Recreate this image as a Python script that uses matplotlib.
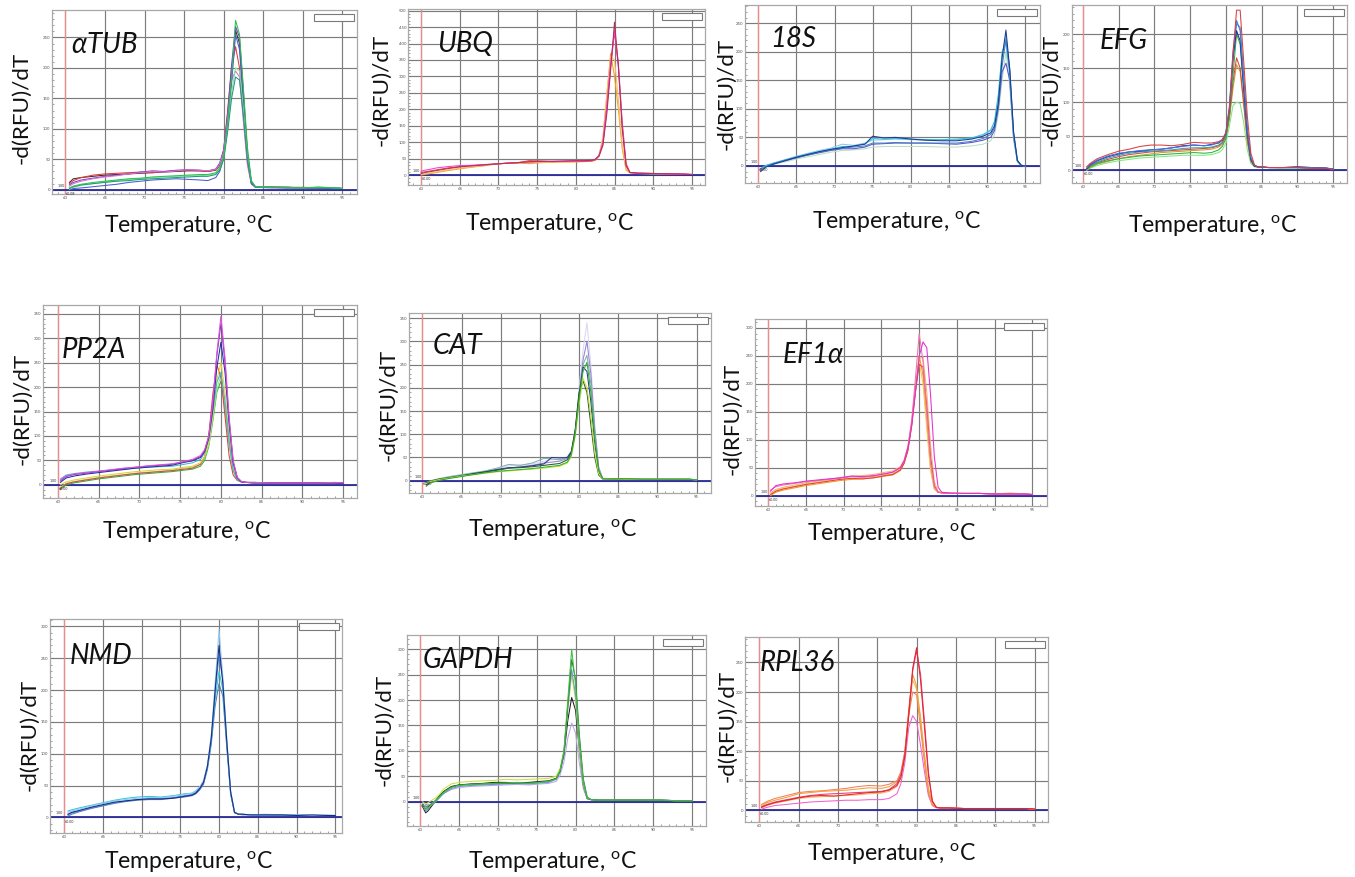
import matplotlib
matplotlib.use("Agg")
import matplotlib.pyplot as plt
from matplotlib.patches import Rectangle
from matplotlib.ticker import MultipleLocator

W, H = 1355, 877

plt.rcParams["font.family"] = ["Lato", "DejaVu Sans"]
plt.rcParams["mathtext.fontset"] = "custom"
plt.rcParams["mathtext.rm"] = "Lato"
plt.rcParams["mathtext.it"] = "Lato:italic"

# ---------------- melt-curve data: -d(RFU)/dT per well ----------------
atub_temp = [60.5, 61, 62, 63.5, 65, 66.5, 68, 69.5, 71, 72.5, 74, 75.5, 77, 78, 79, 79.5,
             80, 80.5, 81, 81.5, 82, 82.5, 83, 83.5, 84, 86, 88, 90, 92, 94, 95]
atub_curves = [
    [12, 18, 20, 22, 24, 25, 26, 27, 28, 29, 30, 31, 31, 30, 32, 40, 62, 115, 190, 262, 240, 150, 60, 12, 5, 4, 4, 3, 3, 3, 2],
    [10, 15, 20, 24, 26, 27, 28, 29, 28, 30, 31, 32, 31, 30, 33, 42, 65, 130, 200, 235, 200, 120, 45, 10, 5, 5, 4, 4, 3, 3, 2],
    [8, 12, 16, 19, 22, 24, 26, 29, 31, 30, 32, 33, 32, 31, 34, 44, 66, 125, 205, 268, 250, 160, 60, 12, 5, 4, 4, 3, 3, 3, 2],
    [6, 10, 14, 18, 21, 23, 26, 28, 30, 29, 31, 33, 32, 31, 33, 42, 62, 115, 180, 195, 185, 110, 40, 9, 4, 4, 3, 3, 3, 3, 2],
    [0, 2, 3, 5, 7, 9, 12, 14, 16, 17, 18, 17, 16, 15, 20, 30, 52, 105, 175, 255, 230, 140, 50, 10, 4, 3, 3, 3, 3, 2, 2],
    [1, 4, 7, 10, 13, 15, 17, 18, 20, 21, 22, 23, 23, 24, 26, 34, 52, 100, 160, 200, 195, 130, 55, 14, 5, 4, 4, 3, 5, 3, 2],
    [2, 5, 8, 10, 12, 14, 15, 17, 18, 19, 20, 21, 22, 22, 25, 32, 50, 95, 150, 185, 180, 120, 50, 12, 5, 4, 3, 3, 3, 3, 2],
    [3, 6, 9, 12, 14, 16, 18, 19, 21, 22, 23, 24, 25, 25, 28, 36, 55, 110, 185, 278, 255, 165, 70, 15, 5, 4, 4, 3, 4, 3, 2],
]
atub_colors = ["#3a2a2a", "#e03a3a", "#7a3cc8", "#e070d0", "#4a5ad0", "#80e0a0", "#1f9a7a", "#2fbf4f"]

ubq_temp = [60, 60.5, 61, 62, 63.5, 65, 66.5, 68, 69.5, 71, 72.5, 74, 75.5, 77, 78.5, 80, 81,
            82, 82.5, 83, 83.5, 84, 84.5, 85, 85.5, 86, 86.5, 87, 88, 90, 92, 94, 95]
ubq_curves = [
    [0, 2, 4, 8, 14, 19, 24, 28, 33, 37, 36, 35, 38, 39, 40, 40, 41, 42, 45, 60, 110, 240, 370, 300, 200, 80, 15, 7, 5, 4, 3, 3, 2],
    [2, 4, 6, 10, 16, 21, 25, 29, 33, 36, 37, 38, 39, 40, 40, 41, 42, 42, 46, 62, 115, 245, 360, 350, 230, 90, 18, 7, 5, 4, 4, 3, 2],
    [8, 10, 12, 16, 22, 26, 29, 31, 33, 36, 38, 44, 43, 41, 42, 43, 42, 43, 46, 58, 95, 200, 330, 435, 340, 160, 35, 8, 6, 5, 4, 3, 2],
    [12, 15, 17, 22, 26, 29, 30, 32, 34, 36, 38, 40, 41, 42, 42, 43, 43, 44, 48, 60, 100, 210, 340, 440, 330, 150, 30, 8, 6, 5, 4, 3, 2],
    [5, 8, 10, 14, 20, 25, 28, 31, 34, 36, 38, 41, 42, 42, 43, 44, 44, 45, 48, 58, 90, 185, 320, 465, 330, 140, 28, 8, 6, 5, 4, 3, 2],
]
ubq_colors = ["#f0a020", "#f8c060", "#e83a3a", "#f040d0", "#b03060"]

s18_temp = [60.3, 61, 62, 63.5, 65, 66.5, 68, 69.5, 71, 72.5, 74, 75, 76.5, 78, 80, 82, 84,
            86, 88, 89.5, 90.5, 91, 91.5, 92, 92.5, 93, 93.5, 94, 94.5, 95]
s18_curves = [
    [-4, 0, 3, 7, 12, 16, 20, 24, 27, 28, 30, 33, 34, 34, 34, 34, 33, 33, 35, 38, 44, 55, 90, 150, 200, 140, 45, 7, 1, 0],
    [-5, 0, 4, 9, 14, 19, 23, 27, 30, 30, 33, 38, 39, 40, 40, 40, 39, 38, 41, 45, 50, 62, 100, 165, 180, 150, 50, 8, 1, 0],
    [-8, 0, 5, 11, 17, 22, 27, 31, 38, 36, 40, 45, 46, 47, 46, 45, 45, 46, 48, 53, 62, 75, 120, 195, 230, 165, 55, 8, 1, 0],
    [-6, 1, 5, 10, 16, 21, 25, 29, 34, 34, 39, 48, 47, 48, 47, 46, 46, 47, 49, 55, 63, 78, 125, 200, 215, 160, 55, 9, 1, 0],
    [-7, -1, 4, 10, 15, 19, 24, 28, 31, 33, 35, 40, 40, 41, 40, 40, 40, 40, 43, 48, 55, 66, 105, 175, 222, 168, 58, 9, 1, 0],
    [-10, -2, 3, 9, 15, 20, 25, 29, 32, 35, 38, 52, 49, 50, 47, 45, 44, 44, 47, 52, 58, 70, 110, 190, 238, 170, 60, 10, 1, 0],
]
s18_colors = ["#b8e0c0", "#5a50d0", "#8cc8f0", "#30c0d8", "#4a80c0", "#1a3c90"]

efg_temp = [60.5, 61, 62, 63.5, 65, 66.5, 68, 69.5, 71, 72.5, 74, 75.5, 77, 78, 79, 79.5,
            80, 80.5, 81, 81.5, 82, 82.5, 83, 83.5, 84, 84.5, 86, 88, 90, 92, 94, 95]
efg_curves = [
    [0, 3, 7, 11, 14, 16, 18, 19, 20, 21, 22, 22, 22, 23, 26, 30, 40, 65, 95, 100, 98, 70, 30, 10, 5, 4, 4, 3, 3, 3, 3, 2],
    [0, 4, 9, 13, 17, 20, 22, 24, 26, 27, 28, 29, 30, 31, 34, 38, 48, 75, 120, 155, 145, 95, 42, 13, 6, 5, 4, 4, 4, 3, 3, 2],
    [2, 6, 11, 16, 20, 23, 25, 27, 28, 29, 30, 31, 32, 33, 36, 40, 50, 80, 130, 165, 150, 100, 45, 14, 6, 5, 4, 4, 4, 3, 3, 2],
    [1, 5, 10, 14, 17, 19, 21, 22, 23, 24, 25, 26, 25, 26, 30, 35, 46, 80, 140, 200, 185, 115, 50, 15, 6, 5, 4, 4, 4, 3, 3, 2],
    [2, 7, 12, 18, 22, 25, 27, 28, 29, 30, 32, 33, 33, 34, 37, 41, 52, 88, 160, 215, 210, 140, 62, 18, 7, 5, 4, 4, 5, 4, 3, 2],
    [2, 8, 14, 20, 24, 27, 28, 30, 31, 33, 36, 37, 36, 38, 40, 44, 54, 90, 165, 205, 190, 120, 55, 16, 6, 5, 4, 4, 5, 4, 3, 2],
    [3, 9, 15, 21, 25, 27, 29, 30, 31, 33, 35, 37, 36, 37, 41, 45, 55, 95, 175, 220, 205, 130, 60, 18, 7, 5, 4, 4, 4, 4, 3, 2],
    [5, 10, 17, 23, 28, 31, 35, 37, 37, 36, 38, 41, 40, 40, 42, 45, 55, 90, 170, 235, 235, 160, 80, 25, 8, 5, 4, 4, 4, 3, 3, 2],
]
efg_colors = ["#80e880", "#c8a030", "#e04040", "#30b040", "#3aa0a0", "#2030a0", "#4a70e0", "#d84040"]

pp2a_temp = [60.3, 61, 62, 63.5, 65, 66.5, 68, 69.5, 71, 72.5, 74, 75.5, 76.5, 77.5, 78, 78.5,
             79, 79.5, 80, 80.5, 81, 81.5, 82, 82.5, 83, 84, 86, 88, 90, 92, 94, 95]
pp2a_curves = [
    [-10, 0, 4, 8, 12, 15, 18, 21, 23, 25, 27, 30, 32, 38, 50, 78, 130, 190, 212, 160, 85, 30, 10, 6, 5, 4, 4, 4, 4, 4, 4, 3],
    [-5, 3, 7, 11, 15, 18, 21, 24, 26, 28, 30, 34, 36, 42, 55, 82, 135, 195, 225, 165, 88, 32, 11, 6, 5, 4, 4, 4, 4, 4, 4, 3],
    [-8, 2, 6, 10, 14, 17, 20, 23, 25, 27, 29, 32, 34, 42, 58, 100, 185, 245, 220, 140, 60, 20, 9, 6, 5, 4, 4, 4, 4, 4, 4, 3],
    [0, 6, 10, 14, 18, 21, 24, 27, 29, 31, 32, 36, 38, 45, 58, 85, 140, 215, 250, 190, 100, 35, 12, 6, 5, 4, 4, 4, 4, 4, 4, 3],
    [12, 20, 23, 26, 28, 30, 32, 34, 36, 37, 38, 42, 45, 52, 66, 95, 150, 210, 230, 170, 90, 30, 10, 6, 5, 4, 4, 4, 4, 4, 4, 3],
    [5, 14, 18, 22, 25, 28, 31, 34, 36, 38, 40, 46, 49, 56, 68, 95, 155, 240, 292, 230, 125, 45, 14, 6, 5, 4, 4, 4, 4, 4, 4, 3],
    [8, 17, 21, 24, 27, 30, 33, 36, 38, 40, 42, 47, 50, 58, 70, 98, 165, 265, 330, 250, 135, 48, 15, 7, 5, 5, 4, 4, 4, 4, 4, 4],
    [10, 18, 22, 25, 28, 31, 34, 36, 39, 41, 43, 48, 52, 60, 72, 100, 170, 270, 345, 260, 140, 50, 15, 7, 5, 5, 4, 4, 4, 4, 5, 4],
]
pp2a_colors = ["#30b040", "#90e890", "#e04040", "#e8d030", "#40b8c8", "#2030a0", "#7a30c0", "#e050d8"]

cat_temp = [60.5, 61, 62, 63.5, 65, 66.5, 68, 69.5, 71, 72.5, 74, 75.5, 76.5, 77.5, 78.5, 79,
            79.5, 80, 80.5, 81, 81.5, 82, 82.5, 83, 84, 86, 88, 90, 92, 94, 95]
cat_curves = [
    [-8, -3, 2, 7, 11, 16, 20, 25, 32, 34, 36, 42, 45, 46, 52, 65, 110, 200, 280, 340, 250, 120, 30, 5, 4, 4, 3, 3, 3, 3, 2],
    [-10, -4, 1, 6, 10, 14, 18, 22, 27, 30, 33, 38, 40, 42, 48, 60, 100, 185, 260, 300, 230, 110, 28, 5, 4, 4, 3, 3, 3, 3, 2],
    [-4, 0, 4, 9, 13, 17, 21, 27, 35, 33, 38, 48, 47, 45, 50, 63, 108, 190, 250, 270, 210, 100, 25, 5, 4, 4, 3, 3, 3, 3, 2],
    [-9, -3, 2, 6, 10, 15, 19, 24, 28, 29, 32, 36, 50, 49, 50, 62, 105, 185, 245, 235, 170, 80, 20, 4, 4, 3, 3, 3, 3, 3, 2],
    [-5, -1, 3, 7, 11, 15, 19, 23, 27, 28, 30, 33, 35, 37, 45, 60, 110, 190, 215, 190, 120, 50, 12, 4, 4, 3, 3, 3, 3, 3, 2],
    [-6, -2, 2, 6, 10, 13, 16, 19, 21, 23, 25, 27, 29, 31, 38, 52, 95, 165, 220, 200, 140, 60, 15, 4, 4, 3, 3, 3, 3, 3, 2],
    [-12, -5, 0, 5, 9, 13, 17, 20, 22, 24, 26, 29, 31, 33, 40, 55, 100, 175, 235, 255, 190, 90, 22, 4, 4, 4, 3, 3, 3, 3, 2],
]
cat_colors = ["#d8d8f0", "#9a80d0", "#80b0b0", "#2a3a90", "#2a5a30", "#c8e030", "#30b030"]

ef1a_temp = [60.3, 61, 62, 63.5, 65, 66.5, 68, 69.5, 71, 72.5, 74, 75.5, 76.5, 77.5, 78, 78.5,
             79, 79.5, 80, 80.5, 81, 81.5, 82, 82.5, 83, 84, 86, 88, 90, 92, 94, 95]
ef1a_curves = [
    [0, 6, 10, 14, 18, 21, 24, 27, 29, 30, 32, 35, 37, 45, 58, 82, 128, 195, 250, 215, 130, 50, 12, 6, 5, 4, 4, 4, 3, 4, 3, 2],
    [3, 9, 13, 17, 21, 24, 27, 29, 31, 32, 34, 37, 39, 47, 60, 84, 130, 190, 240, 200, 120, 45, 12, 6, 5, 4, 4, 4, 3, 5, 3, 2],
    [5, 11, 15, 19, 23, 26, 29, 32, 35, 36, 38, 42, 44, 52, 64, 88, 130, 190, 245, 248, 185, 90, 25, 7, 5, 4, 4, 4, 3, 3, 3, 2],
    [2, 8, 12, 16, 20, 23, 26, 29, 31, 30, 32, 36, 38, 46, 58, 80, 125, 185, 235, 230, 160, 70, 18, 6, 5, 4, 4, 4, 3, 3, 3, 2],
    [10, 16, 19, 22, 25, 27, 29, 31, 34, 33, 35, 40, 42, 50, 62, 88, 135, 210, 290, 240, 150, 60, 15, 7, 5, 4, 4, 4, 3, 3, 3, 2],
    [8, 18, 21, 23, 26, 28, 30, 32, 35, 34, 36, 39, 42, 50, 62, 85, 125, 185, 250, 275, 265, 180, 70, 15, 6, 5, 4, 4, 3, 3, 3, 2],
]
ef1a_colors = ["#f09a20", "#f8c850", "#f8b070", "#e04040", "#f070b0", "#e030d0"]

nmd_temp = [60.5, 61, 62, 63.5, 65, 66.5, 68, 69.5, 71, 72.5, 74, 75.5, 76.5, 77, 77.5, 78,
            78.5, 79, 79.5, 80, 80.5, 81, 81.5, 82, 82.5, 83, 84, 86, 88, 90, 92, 94, 95]
nmd_curves = [
    [2, 5, 9, 14, 18, 22, 25, 27, 28, 28, 30, 32, 34, 37, 43, 52, 75, 115, 175, 210, 190, 110, 36, 7, 5, 4, 4, 4, 3, 3, 3, 3, 3],
    [10, 12, 15, 19, 23, 27, 30, 32, 33, 32, 34, 37, 38, 41, 47, 56, 78, 120, 185, 230, 200, 115, 38, 8, 5, 5, 4, 4, 4, 3, 3, 3, 3],
    [4, 7, 10, 15, 19, 23, 26, 28, 30, 30, 31, 34, 36, 39, 46, 56, 80, 122, 195, 255, 215, 118, 40, 8, 5, 5, 4, 4, 4, 4, 3, 3, 3],
    [8, 10, 13, 18, 22, 26, 28, 30, 31, 31, 33, 36, 38, 42, 48, 58, 82, 130, 210, 295, 220, 125, 42, 9, 5, 5, 4, 5, 4, 4, 3, 4, 3],
    [5, 8, 11, 16, 20, 24, 26, 28, 29, 29, 30, 33, 35, 38, 45, 55, 80, 125, 200, 270, 210, 120, 40, 8, 5, 5, 4, 4, 4, 3, 4, 3, 3],
]
nmd_colors = ["#5a7ab0", "#30c8d8", "#4a8ae0", "#90c8f0", "#1a2a80"]

gapdh_temp = [60.3, 60.7, 61, 61.5, 62, 62.5, 63, 64, 65, 66.5, 68, 69.5, 71, 72.5, 74, 75.5, 76.5,
              77.5, 78, 78.5, 79, 79.5, 80, 80.5, 81, 81.5, 82, 83, 85, 87, 89, 91, 93, 95]
gapdh_curves = [
    [-3, -10, -8, -3, 3, 10, 16, 24, 28, 30, 31, 32, 33, 34, 33, 35, 36, 40, 52, 78, 125, 155, 135, 75, 25, 6, 4, 3, 3, 3, 3, 3, 2, 2],
    [-10, -22, -18, -8, 2, 12, 20, 30, 33, 35, 36, 38, 38, 37, 38, 40, 41, 46, 60, 92, 160, 205, 180, 100, 32, 6, 4, 3, 3, 3, 3, 3, 2, 2],
    [0, -5, -2, 3, 8, 15, 25, 35, 38, 40, 41, 42, 44, 43, 44, 45, 46, 50, 65, 100, 180, 250, 200, 100, 32, 7, 4, 3, 3, 3, 3, 3, 2, 2],
    [-8, -18, -14, -6, 0, 8, 16, 26, 30, 32, 33, 34, 35, 36, 35, 37, 38, 44, 58, 95, 185, 260, 210, 110, 35, 7, 4, 3, 3, 3, 3, 3, 2, 2],
    [-6, -14, -10, -4, 3, 11, 19, 29, 33, 34, 35, 36, 36, 37, 37, 39, 40, 45, 60, 96, 190, 280, 240, 130, 45, 9, 4, 3, 3, 3, 3, 3, 2, 2],
    [-5, -15, -12, -5, 2, 10, 18, 28, 32, 34, 35, 36, 37, 38, 36, 38, 40, 45, 62, 100, 200, 300, 230, 120, 40, 8, 4, 3, 3, 3, 3, 3, 2, 2],
]
gapdh_colors = ["#b8a8e8", "#202020", "#c8e040", "#7090d8", "#2a7a30", "#40c040"]

rpl36_temp = [60.3, 61, 62, 63.5, 65, 66.5, 68, 69.5, 71, 72.5, 74, 75.5, 76.5, 77.5, 78, 78.5,
              79, 79.5, 80, 80.5, 81, 81.5, 82, 82.5, 83, 84, 86, 88, 90, 92, 94, 95]
rpl36_curves = [
    [2, 5, 8, 10, 12, 14, 15, 16, 17, 17, 18, 18, 20, 28, 45, 80, 140, 160, 150, 110, 65, 25, 8, 4, 4, 4, 3, 3, 3, 3, 3, 2],
    [10, 15, 20, 25, 30, 32, 33, 35, 37, 40, 42, 41, 44, 50, 65, 98, 160, 200, 195, 140, 80, 30, 9, 5, 4, 4, 3, 3, 3, 3, 3, 2],
    [4, 8, 12, 16, 20, 22, 23, 24, 25, 26, 28, 29, 32, 40, 55, 95, 165, 220, 205, 160, 95, 38, 11, 5, 4, 4, 3, 3, 3, 3, 3, 2],
    [8, 13, 17, 22, 28, 30, 32, 33, 34, 36, 38, 37, 40, 48, 62, 100, 170, 230, 210, 150, 90, 35, 10, 5, 4, 4, 3, 3, 3, 3, 3, 2],
    [6, 10, 14, 18, 22, 25, 27, 28, 29, 30, 31, 32, 35, 45, 60, 95, 165, 235, 270, 230, 150, 65, 16, 5, 4, 4, 3, 3, 3, 3, 3, 2],
    [5, 9, 13, 17, 21, 24, 25, 24, 26, 28, 30, 31, 34, 42, 55, 90, 160, 240, 275, 220, 140, 60, 15, 5, 4, 4, 3, 3, 3, 3, 3, 2],
]
rpl36_colors = ["#f060d0", "#f08060", "#f8b060", "#f0a030", "#e83880", "#e02828"]

gene_names = [r"$\mathit{\alpha}$TUB", "UBQ", "18S", "EFG", "PP2A", "CAT", "EF1$\\mathit{\\alpha}$",
              "NMD", "GAPDH", "RPL36"]

# ---------------- layout (pixel boxes: left, top, right, bottom) ----------------
panels = [
    dict(name=gene_names[0], temp=atub_temp, curves=atub_curves, colors=atub_colors,
         box=(52, 10, 357, 194), xlim=(58.3, 96.85), ylim=(-7, 295), ystep=50,
         ylab=(21, 108), xlab=(189, 226), gene=(104, 45)),
    dict(name=gene_names[1], temp=ubq_temp, curves=ubq_curves, colors=ubq_colors,
         box=(408, 9, 705, 185), xlim=(58.3, 96.7), ylim=(-30, 505), ystep=50,
         ylab=(381, 90), xlab=(550, 224), gene=(465, 44)),
    dict(name=gene_names[2], temp=s18_temp, curves=s18_curves, colors=s18_colors,
         box=(745, 5, 1040, 183), xlim=(58.25, 96.97), ylim=(-30, 282), ystep=50,
         ylab=(726, 94), xlab=(897, 222), gene=(793, 39)),
    dict(name=gene_names[3], temp=efg_temp, curves=efg_curves, colors=efg_colors,
         box=(1072, 5, 1347, 183), xlim=(58.46, 96.96), ylim=(-18.7, 242.6), ystep=50,
         ylab=(1051, 90), xlab=(1213, 225), gene=(1124, 41)),
    dict(name=gene_names[4], temp=pp2a_temp, curves=pp2a_curves, colors=pp2a_colors,
         box=(43, 305, 357, 498), xlim=(58.16, 96.7), ylim=(-27, 368), ystep=50,
         ylab=(22, 409), xlab=(187, 532), gene=(94, 350)),
    dict(name=gene_names[5], temp=cat_temp, curves=cat_curves, colors=cat_colors,
         box=(409, 313, 711, 493), xlim=(58.29, 96.83), ylim=(-26.5, 361), ystep=50,
         ylab=(388, 405), xlab=(553, 529), gene=(457, 346)),
    dict(name=gene_names[6], temp=ef1a_temp, curves=ef1a_curves, colors=ef1a_colors,
         box=(755, 319, 1047, 506), xlim=(58.24, 96.93), ylim=(-18.5, 316), ystep=50,
         ylab=(732, 419), xlab=(892, 534), gene=(813, 355)),
    dict(name=gene_names[7], temp=nmd_temp, curves=nmd_curves, colors=nmd_colors,
         box=(50, 619, 342, 833), xlim=(58.19, 95.87), ylim=(-24.5, 311.6), ystep=50,
         ylab=(29, 735), xlab=(189, 861), gene=(101, 656)),
    dict(name=gene_names[8], temp=gapdh_temp, curves=gapdh_curves, colors=gapdh_colors,
         box=(407, 635, 706, 826), xlim=(58.29, 96.8), ylim=(-47.8, 328), ystep=50,
         ylab=(384, 730), xlab=(553, 861), gene=(468, 660)),
    dict(name=gene_names[9], temp=rpl36_temp, curves=rpl36_curves, colors=rpl36_colors,
         box=(745, 637, 1048, 822), xlim=(58.19, 96.7), ylim=(-19.8, 293), ystep=50,
         ylab=(727, 726), xlab=(892, 853), gene=(797, 663)),
]

fig = plt.figure(figsize=(W / 100, H / 100), dpi=100)
fig.patch.set_facecolor("white")

YLABEL_SIZE = 16.2
XLABEL_SIZE = 16.6
GENE_SIZE = 19.8


def fx(px):
    return px / W


def fy(py):
    return 1 - py / H


for p in panels:
    l, t, r, b = p["box"]
    ax = fig.add_axes([fx(l), fy(b), (r - l) / W, (b - t) / H])
    ax.set_xlim(*p["xlim"])
    ax.set_ylim(*p["ylim"])
    ax.xaxis.set_major_locator(MultipleLocator(5))
    ax.xaxis.set_minor_locator(MultipleLocator(1))
    ax.yaxis.set_major_locator(MultipleLocator(p["ystep"]))
    ax.yaxis.set_minor_locator(MultipleLocator(10))
    ax.grid(True, which="major", color="#7c7c7c", lw=0.85)
    ax.set_axisbelow(True)
    for s in ax.spines.values():
        s.set_color("#a8a8a8")
        s.set_linewidth(0.9)
    ax.tick_params(which="both", labelsize=3.1, labelcolor="#555555", color="#777777",
                   direction="in", pad=1.2)
    ax.tick_params(which="major", length=2.5, width=0.6)
    ax.tick_params(which="minor", length=1.5, width=0.5)

    # threshold markers
    ax.axvline(60, color="#f08a8a", lw=0.9, zorder=1.5)
    ax.axhline(0, color="#2a2a9a", lw=1.3, zorder=1.6)
    ax.text(59.9, 0.01 * (p["ylim"][1] - p["ylim"][0]), "1.00", fontsize=2.6,
            color="#333333", ha="right", va="bottom")
    ax.text(60.1, -0.01 * (p["ylim"][1] - p["ylim"][0]), "60.00", fontsize=2.6,
            color="#333333", ha="left", va="top")

    for vals, c in zip(p["curves"], p["colors"]):
        ax.plot(p["temp"], vals, color=c, lw=0.75, zorder=2)

    # empty legend frame in the upper-right corner
    wpx, hpx = r - l, b - t
    ax.add_patch(Rectangle((1 - 43 / wpx, 1 - 11 / hpx), 40 / wpx, 7 / hpx,
                           transform=ax.transAxes, facecolor="white",
                           edgecolor="#7a7a7a", lw=0.8, zorder=5))

    fig.text(fx(p["ylab"][0]), fy(p["ylab"][1]), "-d(RFU)/dT", rotation=90,
             fontsize=YLABEL_SIZE, ha="center", va="center", color="#111111")
    fig.text(fx(p["xlab"][0]), fy(p["xlab"][1]), r"Temperature, $^{\mathrm{o}}$C",
             fontsize=XLABEL_SIZE, ha="center", va="center", color="#111111")
    fig.text(fx(p["gene"][0]), fy(p["gene"][1]), p["name"], fontsize=GENE_SIZE,
             style="italic", ha="center", va="center", color="#111111")

fig.savefig("out.png", dpi=100)
